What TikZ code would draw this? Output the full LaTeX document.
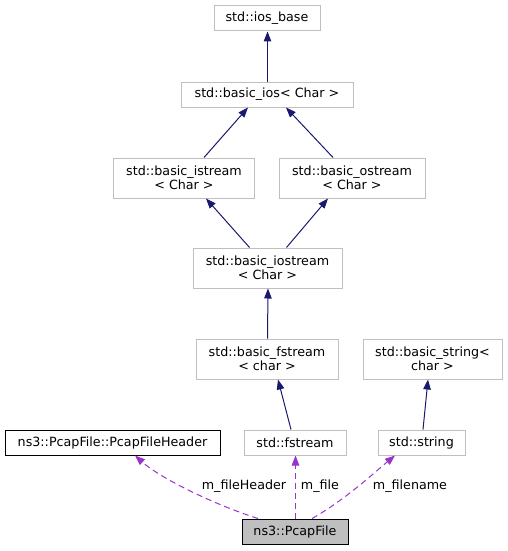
\documentclass[tikz,border=0pt]{standalone}
\usepackage{fontspec}
\setmainfont{DejaVu Sans}
\usepackage{tikz}
\usetikzlibrary{arrows.meta}
\definecolor{edgeblue}{HTML}{191970}
\definecolor{memberpurple}{HTML}{9A32CD}
\definecolor{boxgrey}{HTML}{BFBFBF}

\begin{document}
\begin{tikzpicture}[
    x=1pt, y=-1pt,
    cls/.style={draw=boxgrey, line width=1pt, fill=white, align=center,
      inner sep=0pt, minimum height=25pt,
      font=\fontsize{12.7}{14.3}\selectfont},
    twoline/.style={cls, minimum height=40pt},
    known/.style={cls, draw=black},
    focus/.style={cls, draw=black, fill=boxgrey},
    inherit/.style={-{Triangle[length=10pt,width=7.5pt,fill=edgeblue]},
      line width=1pt, draw=edgeblue},
    member/.style={-{Triangle[length=10pt,width=7.5pt,fill=memberpurple]},
      line width=1pt, draw=memberpurple, dash pattern=on 6pt off 4pt},
    lbl/.style={font=\fontsize{12.7}{14.3}\selectfont, inner sep=1pt}
  ]
    \useasboundingbox (0,0) rectangle (507,551);

    % inheritance chain
    \node[cls, minimum width=106pt] (iosbase) at (267,18.5) {std::ios\_base};
    \node[cls, minimum width=172pt] (basicios) at (267,94.5)
      {std::basic\_ios< Char >};
    \node[twoline, minimum width=141pt] (istream) at (184,178)
      {std::basic\_istream\\< Char >};
    \node[twoline, minimum width=146pt] (ostream) at (352,178)
      {std::basic\_ostream\\< Char >};
    \node[twoline, minimum width=149pt] (iostream) at (267.5,268)
      {std::basic\_iostream\\< Char >};
    \node[twoline, minimum width=142pt] (bfstream) at (267,359)
      {std::basic\_fstream\\< char >};
    \node[twoline, minimum width=139pt] (bstring) at (432.5,359)
      {std::basic\_string<\\char >};

    \node[known, minimum width=215pt] (header) at (112.5,442.5)
      {ns3::PcapFile::PcapFileHeader};
    \node[cls, minimum width=102pt] (fstream) at (295,442.5) {std::fstream};
    \node[cls, minimum width=87pt] (string) at (421.5,442.5) {std::string};
    \node[focus, minimum width=106pt] (pcap) at (295,531.5) {ns3::PcapFile};

    \draw[inherit] ([xshift=0.5pt]basicios.north) -- ([xshift=0.5pt]iosbase.south);
    \draw[inherit] ([xshift=20pt]istream.north) -- ([xshift=-19pt]basicios.south);
    \draw[inherit] ([xshift=-19pt]ostream.north) -- ([xshift=19pt]basicios.south);
    \draw[inherit] ([xshift=-18pt]iostream.north) -- ([xshift=22pt]istream.south);
    \draw[inherit] ([xshift=19pt]iostream.north) -- ([xshift=-24pt]ostream.south);
    \draw[inherit] ([xshift=0.5pt]bfstream.north) -- ([xshift=0.5pt]iostream.south);
    \draw[inherit] ([xshift=-4pt]fstream.north) -- ([xshift=11pt]bfstream.south);
    \draw[inherit] ([xshift=1.5pt]string.north) -- ([xshift=-4.5pt]bstring.south);

    % members
    \draw[member] ([xshift=-37pt]pcap.north) .. controls (215,505) and (160,478)
      .. ([xshift=22.5pt]header.south);
    \draw[member] ([xshift=0.5pt]pcap.north) -- ([xshift=0.5pt]fstream.south);
    \draw[member] ([xshift=17pt]pcap.north) .. controls (345,500) and (375,472)
      .. ([xshift=-26.5pt]string.south);

    \node[lbl] (lheader) at (244,486) {m\_fileHeader};
    \node[lbl] (lfile) at (320,486) {m\_file};
    \node[lbl] (lfilename) at (410,486) {m\_filename};
  \end{tikzpicture}
\end{document}
